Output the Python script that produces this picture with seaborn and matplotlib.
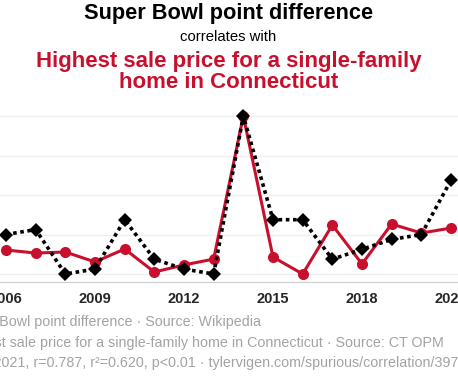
import numpy as np
import pandas as pd
import seaborn as sns
import matplotlib.pyplot as plt

# data
years = list(range(2006, 2022))
superbowl_diff = [11, 12, 3, 4, 14, 6, 4, 3, 35, 14, 14, 6, 8, 10, 11, 22]
ct_price = [26.7, 24.6, 25.3, 18.4, 27.4, 11.4, 16.3, 20.4, 120.0, 21.8, 10.0, 44.1, 17.0, 44.8, 38.5, 42.0]  # $M, estimated
tick_years = [2006, 2009, 2012, 2015, 2018, 2021]

df = pd.DataFrame({'year': years, 'sb': superbowl_diff, 'price': ct_price})

RED = '#c8102e'
GREY = '#a3a3a3'

sns.set_style("white")
plt.rcParams['font.family'] = ['Liberation Sans', 'DejaVu Sans']

W, H = 458, 382
fig = plt.figure(figsize=(W / 100, H / 100), dpi=100)

# axes run past the figure edges like the cropped original
ax = fig.add_axes([0, 1 - 282 / H, 1, (282 - 108) / H])
ax2 = ax.twinx()

sns.lineplot(data=df, x='year', y='price', ax=ax, color=RED, lw=2.2,
             marker='o', markersize=8, markeredgewidth=0)
sns.lineplot(data=df, x='year', y='sb', ax=ax2, color='black', lw=2.6,
             linestyle=(0, (1, 1)), marker='D', markersize=7, markeredgewidth=0)

# same padding on both so the extremes line up
def pad_lim(vals):
    lo, hi = min(vals), max(vals)
    p = (hi - lo) * 8 / 158
    return lo - p, hi + p

ax.set_ylim(*pad_lim(ct_price))
ax2.set_ylim(*pad_lim(superbowl_diff))
ax.set_yticks(np.linspace(min(ct_price), max(ct_price), 5))
ax2.set_yticks([])
ax.set_yticklabels([])
ax.tick_params(axis='y', length=0)
ax.grid(axis='y', color='#eeeeee', lw=1)
ax.set_axisbelow(True)

px_year = (451 - 6) / 15
ax.set_xlim(2006 - 6 / px_year, 2021 + 7 / px_year)
ax.set_xticks(tick_years)
ax.set_xticklabels([str(t) for t in tick_years], fontsize=10.5, fontweight='bold')
ax.tick_params(axis='x', length=5, width=1, color='#333333', pad=2)
ax.set_xlabel('')
ax.set_ylabel('')
ax2.set_ylabel('')
for a in (ax, ax2):
    for s in ('top', 'left', 'right'):
        a.spines[s].set_visible(False)
    a.spines['bottom'].set_color('#cccccc')
ax2.spines['bottom'].set_visible(False)

# titles
cx = 228.5 / W
fig.text(cx, 1 - 19.5 / H, 'Super Bowl point difference', ha='center', va='baseline',
         fontsize=15.7, fontweight='bold', color='black')
fig.text(cx, 1 - 41 / H, 'correlates with', ha='center', va='baseline',
         fontsize=10.7, color='black')
fig.text(cx, 1 - 66.5 / H, 'Highest sale price for a single-family',
         ha='center', va='baseline', fontsize=16, fontweight='bold', color=RED)
fig.text(cx, 1 - 88 / H, 'home in Connecticut',
         ha='center', va='baseline', fontsize=16, fontweight='bold', color=RED)

# footer, cut off at the left like the original
foot = ['Super Bowl point difference · Source: Wikipedia',
        'Highest sale price for a single-family home in Connecticut · Source: CT OPM',
        '2006-2021, r=0.787, r²=0.620, p<0.01 · tylervigen.com/spurious/correlation/3971']
for i, (line, base) in enumerate(zip(foot, [326, 347, 367])):
    fig.text(-43 / W, 1 - base / H, line, ha='left', va='baseline',
             fontsize=10.25, color=GREY)

fig.savefig('out.png', dpi=100)
